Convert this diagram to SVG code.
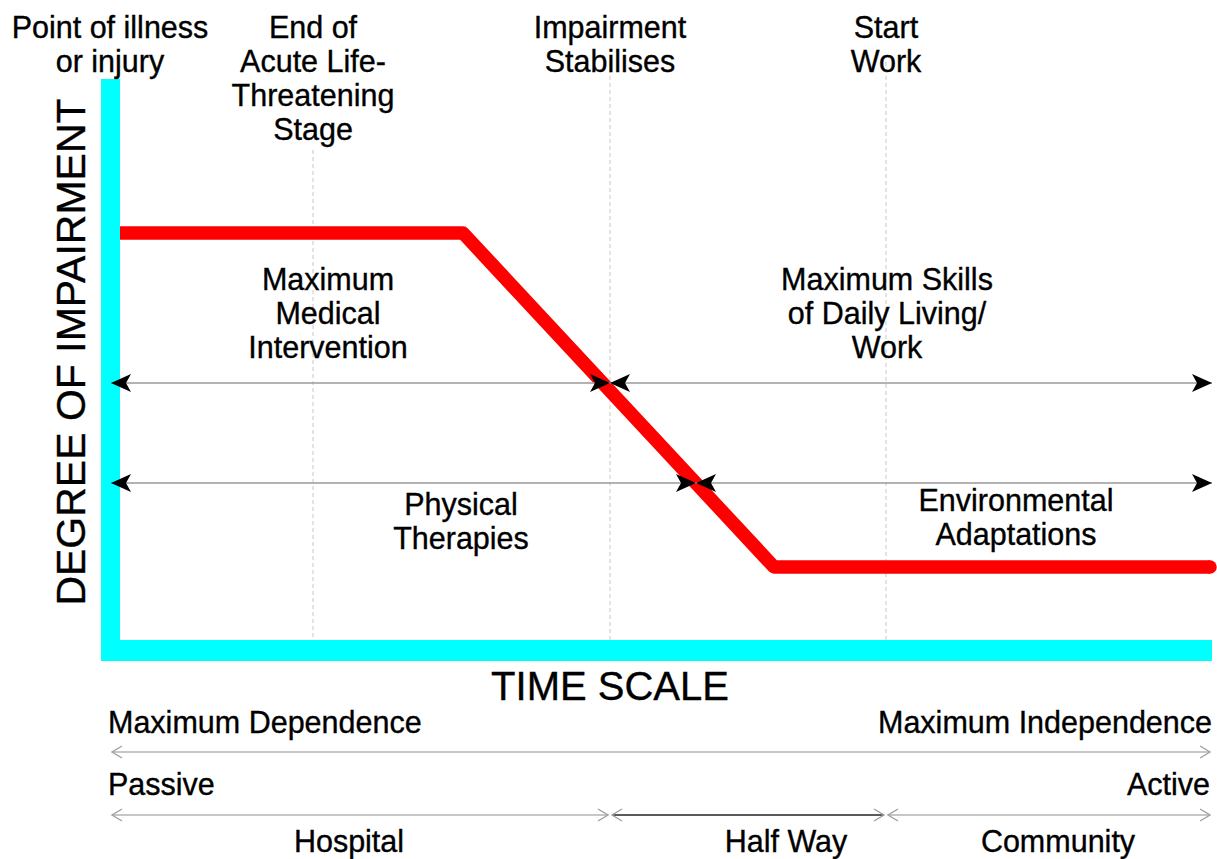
<svg xmlns="http://www.w3.org/2000/svg" width="1217" height="859" viewBox="0 0 1217 859">
  <defs>
    <style>
      text { font-family: "Liberation Sans", Arial, sans-serif; fill: #000; stroke: #000; stroke-width: 0.35px; }
      .lbl { font-size: 30.5px; text-anchor: middle; }
      .scale { font-size: 30.5px; }
      .axis { fill: #00ffff; }
      .guide { stroke: #c8c8c8; stroke-width: 1; stroke-dasharray: 4 3; fill: none; }
      .span { stroke: #9a9a9a; stroke-width: 1.6; fill: none; }
      .range { stroke: #b4b4b4; stroke-width: 1.5; fill: none; }
      .range-dark { stroke: #5a5a5a; stroke-width: 1.8; fill: none; }
      .curve { stroke: #ff0000; stroke-width: 13.5; fill: none; stroke-linejoin: round; }
    </style>
    <!-- solid concave arrowhead, tip at the path end -->
    <marker id="headEnd" markerUnits="userSpaceOnUse" markerWidth="22" markerHeight="22" viewBox="-21 -10 22 20" refX="0" refY="0" orient="auto">
      <path d="M0,0 L-20,-9 L-15,0 L-20,9 Z" fill="#000"/>
    </marker>
    <marker id="headStart" markerUnits="userSpaceOnUse" markerWidth="22" markerHeight="22" viewBox="-1 -10 22 20" refX="0" refY="0" orient="auto">
      <path d="M0,0 L20,-9 L15,0 L20,9 Z" fill="#000"/>
    </marker>
    <!-- open chevrons for the bottom scales -->
    <marker id="chevEnd" markerUnits="userSpaceOnUse" markerWidth="14" markerHeight="16" viewBox="-12 -7 14 14" refX="0" refY="0" orient="auto">
      <path d="M-10,-6 L0,0 L-10,6" fill="none" stroke="#a0a0a0" stroke-width="1.4"/>
    </marker>
    <marker id="chevStart" markerUnits="userSpaceOnUse" markerWidth="14" markerHeight="16" viewBox="-2 -7 14 14" refX="0" refY="0" orient="auto">
      <path d="M10,-6 L0,0 L10,6" fill="none" stroke="#a0a0a0" stroke-width="1.4"/>
    </marker>
  </defs>

  <rect width="1217" height="859" fill="#fff"/>

  <!-- milestone guides -->
  <g id="guides">
    <line class="guide" x1="313" y1="150" x2="313" y2="640"/>
    <line class="guide" x1="610" y1="62" x2="610" y2="640"/>
    <line class="guide" x1="886" y1="62" x2="886" y2="640"/>
  </g>

  <!-- impairment curve -->
  <g id="impairment-curve">
    <path class="curve" d="M118,233 L463,233 L774,567 L1210,567" stroke-linecap="butt"/>
    <circle cx="1210" cy="567" r="6.75" fill="#ff0000"/>
  </g>

  <!-- axes -->
  <g id="axes">
    <rect class="axis" x="101" y="79" width="19" height="582"/>
    <rect class="axis" x="101" y="640" width="1111" height="21"/>
  </g>

  <!-- span arrows -->
  <g id="connectors">
    <line class="span" x1="111" y1="383" x2="610" y2="383" marker-start="url(#headStart)" marker-end="url(#headEnd)"/>
    <line class="span" x1="610" y1="383" x2="1212" y2="383" marker-start="url(#headStart)" marker-end="url(#headEnd)"/>
    <line class="span" x1="111" y1="483" x2="696" y2="483" marker-start="url(#headStart)" marker-end="url(#headEnd)"/>
    <line class="span" x1="696" y1="483" x2="1212" y2="483" marker-start="url(#headStart)" marker-end="url(#headEnd)"/>

    <line class="range" x1="112" y1="752" x2="1210" y2="752" marker-start="url(#chevStart)" marker-end="url(#chevEnd)"/>
    <line class="range" x1="112" y1="815" x2="608" y2="815" marker-start="url(#chevStart)" marker-end="url(#chevEnd)"/>
    <line class="range-dark" x1="612" y1="815" x2="884" y2="815" marker-start="url(#chevStart)" marker-end="url(#chevEnd)"/>
    <line class="range" x1="888" y1="815" x2="1210" y2="815" marker-start="url(#chevStart)" marker-end="url(#chevEnd)"/>
  </g>

  <!-- milestone labels -->
  <g id="point-of-illness">
    <text class="lbl" x="110" y="38">Point of illness</text>
    <text class="lbl" x="110" y="72">or injury</text>
  </g>
  <g id="end-of-acute">
    <text class="lbl" x="313" y="38">End of</text>
    <text class="lbl" x="313" y="72">Acute Life-</text>
    <text class="lbl" x="313" y="106">Threatening</text>
    <text class="lbl" x="313" y="140">Stage</text>
  </g>
  <g id="impairment-stabilises">
    <text class="lbl" x="610" y="38">Impairment</text>
    <text class="lbl" x="610" y="72">Stabilises</text>
  </g>
  <g id="start-work">
    <text class="lbl" x="886" y="38">Start</text>
    <text class="lbl" x="886" y="72">Work</text>
  </g>

  <!-- region labels -->
  <g id="max-medical">
    <text class="lbl" x="328" y="290">Maximum</text>
    <text class="lbl" x="328" y="324">Medical</text>
    <text class="lbl" x="328" y="358">Intervention</text>
  </g>
  <g id="max-skills">
    <text class="lbl" x="887" y="290">Maximum Skills</text>
    <text class="lbl" x="887" y="324">of Daily Living/</text>
    <text class="lbl" x="887" y="358">Work</text>
  </g>
  <g id="physical-therapies">
    <text class="lbl" x="461" y="515">Physical</text>
    <text class="lbl" x="461" y="549">Therapies</text>
  </g>
  <g id="environmental">
    <text class="lbl" x="1016" y="511">Environmental</text>
    <text class="lbl" x="1016" y="545">Adaptations</text>
  </g>

  <!-- axis titles -->
  <g id="axis-titles">
    <text x="610" y="700" font-size="40" text-anchor="middle">TIME SCALE</text>
    <text transform="translate(85,352) rotate(-90)" font-size="41" text-anchor="middle">DEGREE OF IMPAIRMENT</text>
  </g>

  <!-- bottom scales -->
  <g id="scale-labels">
    <text class="scale" x="108" y="733">Maximum Dependence</text>
    <text class="scale" x="1212" y="733" text-anchor="end">Maximum Independence</text>
    <text class="scale" x="108" y="795">Passive</text>
    <text class="scale" x="1210" y="795" text-anchor="end">Active</text>
    <text class="lbl" x="349" y="852">Hospital</text>
    <text class="lbl" x="786" y="852">Half Way</text>
    <text class="lbl" x="1058" y="852">Community</text>
  </g>
</svg>
